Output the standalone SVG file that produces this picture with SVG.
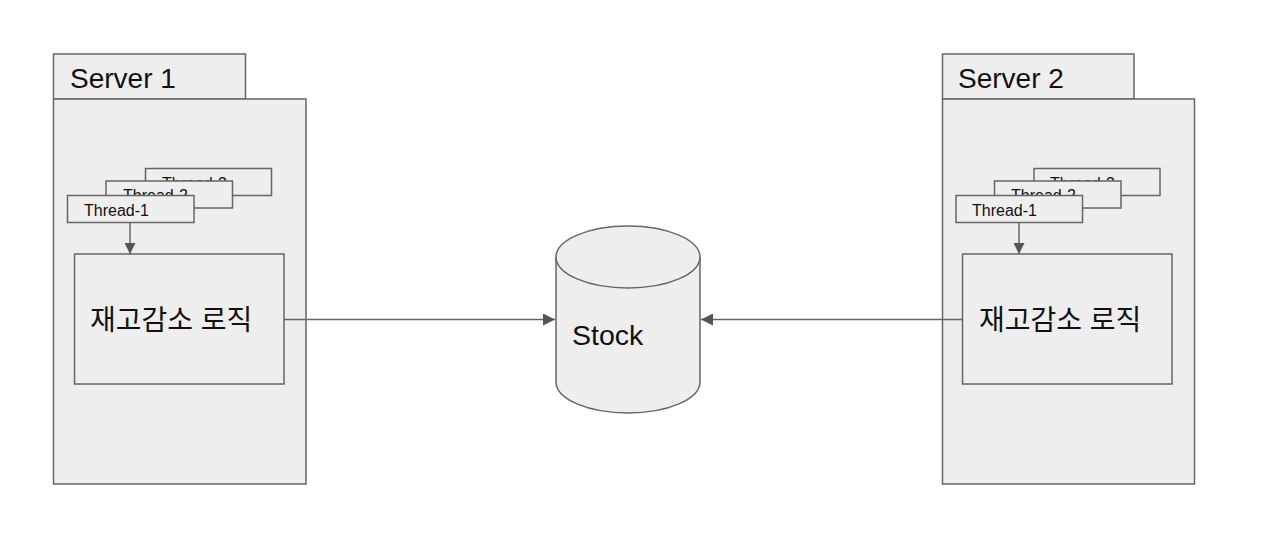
<svg xmlns="http://www.w3.org/2000/svg" width="1280" height="552" viewBox="0 0 1280 552">
<defs>
<style>
.box{fill:#eeeeee;stroke:#666666;stroke-width:1.5}
.lbl{font-family:"Liberation Sans",Arial,sans-serif;fill:#111}
.ko{font-family:"Liberation Sans","Noto Sans CJK KR",sans-serif;fill:#111;font-size:28px}
.thr{font-size:16px}
.conn{stroke:#666666;stroke-width:1.5;fill:none}
</style>
<marker id="ah" viewBox="0 0 10 10" refX="10" refY="5" markerWidth="13" markerHeight="11" markerUnits="userSpaceOnUse" orient="auto">
<path d="M0,0 L10,5 L0,10 z" fill="#555555"/>
</marker>
<marker id="ahs" viewBox="0 0 10 10" refX="10" refY="5" markerWidth="13" markerHeight="12" markerUnits="userSpaceOnUse" orient="auto">
<path d="M0,0 L10,5 L0,10 z" fill="#555555"/>
</marker>
</defs>
<rect width="1280" height="552" fill="#ffffff"/>

<g id="server1">
<rect class="box" x="53.5" y="54" width="192" height="45"/>
<rect class="box" x="53.5" y="99" width="252.5" height="385"/>
<text class="lbl" x="70" y="88" font-size="28">Server 1</text>
</g>
<g id="server1-thread3">
<rect class="box" x="145.5" y="168.5" width="126" height="27"/>
<text class="lbl thr" x="162" y="189">Thread-3</text>
</g>
<g id="server1-thread2">
<rect class="box" x="106" y="181" width="126.5" height="27"/>
<text class="lbl thr" x="123" y="201">Thread-2</text>
</g>
<g id="server1-thread1">
<rect class="box" x="67.5" y="195.5" width="126.5" height="27"/>
<text class="lbl thr" x="84" y="216">Thread-1</text>
</g>
<g id="server1-logic">
<rect class="box" x="74.5" y="254" width="209.5" height="130"/>
<text class="ko" x="90" y="330">재고감소 로직</text>
</g>

<g id="server2">
<rect class="box" x="942.5" y="54" width="191.5" height="45"/>
<rect class="box" x="942.5" y="99" width="252" height="385"/>
<text class="lbl" x="958" y="88" font-size="28">Server 2</text>
</g>
<g id="server2-thread3">
<rect class="box" x="1034" y="168.5" width="126" height="27"/>
<text class="lbl thr" x="1050" y="189">Thread-3</text>
</g>
<g id="server2-thread2">
<rect class="box" x="994.5" y="181" width="126.5" height="27"/>
<text class="lbl thr" x="1011" y="201">Thread-2</text>
</g>
<g id="server2-thread1">
<rect class="box" x="956" y="195.5" width="126.5" height="27"/>
<text class="lbl thr" x="972" y="216">Thread-1</text>
</g>
<g id="server2-logic">
<rect class="box" x="962.5" y="254" width="209.5" height="130"/>
<text class="ko" x="979" y="330">재고감소 로직</text>
</g>

<g id="stock">
<path class="box" d="M556,257 L556,382 A72,31 0 0 0 700,382 L700,257 A72,31 0 0 0 556,257 Z"/>
<path class="box" d="M556,257 A72,31 0 0 0 700,257" fill="none"/>
<text class="lbl" x="572" y="345" font-size="28.5">Stock</text>
</g>

<g id="connectors">
<line class="conn" x1="130" y1="222.5" x2="130" y2="254" marker-end="url(#ah)"/>
<line class="conn" x1="1019" y1="222.5" x2="1019" y2="254" marker-end="url(#ah)"/>
<line class="conn" x1="284" y1="319.5" x2="555" y2="319.5" marker-end="url(#ahs)"/>
<line class="conn" x1="962.5" y1="319.5" x2="701" y2="319.5" marker-end="url(#ahs)"/>
</g>
</svg>
